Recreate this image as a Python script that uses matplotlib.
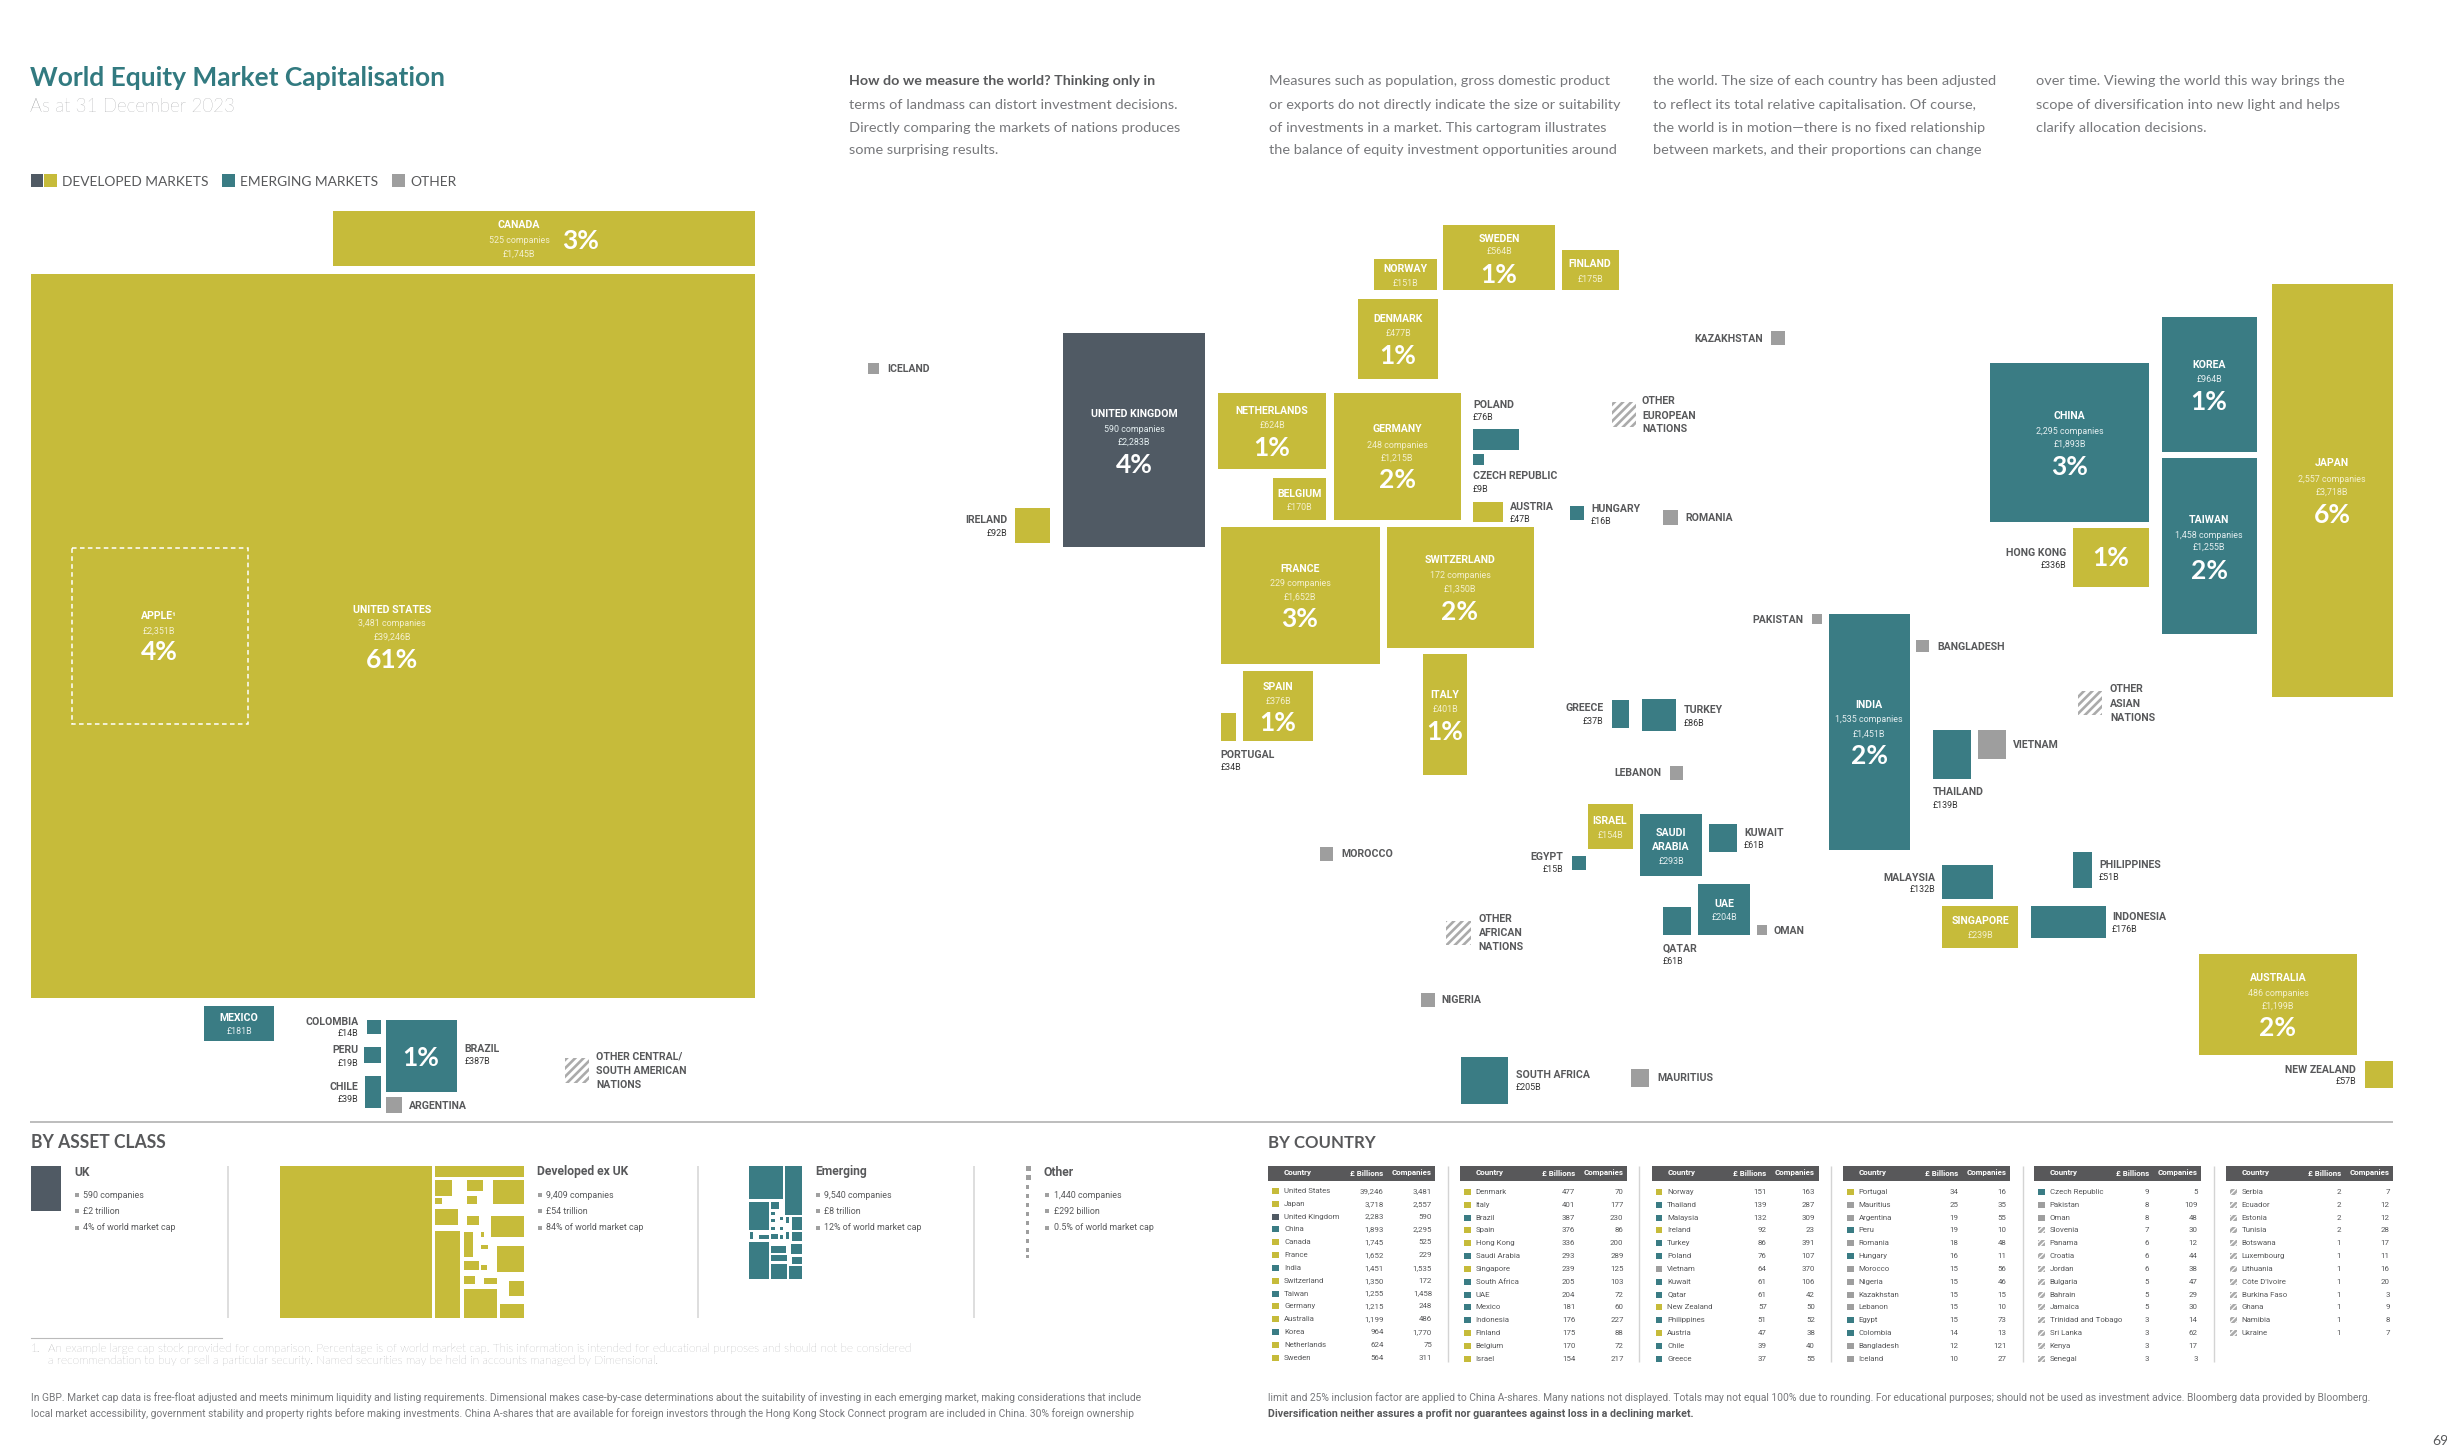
import matplotlib
matplotlib.use('Agg')
import matplotlib.pyplot as plt
from matplotlib import font_manager as fm

W, H = 2447, 1448
OLIVE, TEAL, SLATE, GRAY = '#C6BB3A', '#3A7C84', '#505A64', '#9E9E9E'
TXT, HEAD = '#58595B', '#58585A'
HATCH = '#ABABAB'

# ---------- data ----------
T1_NAMES = ['United States','Japan','United Kingdom','China','Canada','France','India','Switzerland','Taiwan','Germany','Australia','Korea','Netherlands','Sweden']
T1_VALS = [39246,3718,2283,1893,1745,1652,1451,1350,1255,1215,1199,964,624,564]
T1_COS = [3481,2557,590,2295,525,229,1535,172,1458,248,486,1770,75,311]
T1_CLASS = list('DDUEDDEDEDDEDD')
T2_NAMES = ['Denmark','Italy','Brazil','Spain','Hong Kong','Saudi Arabia','Singapore','South Africa','UAE','Mexico','Indonesia','Finland','Belgium','Israel']
T2_VALS = [477,401,387,376,336,293,239,205,204,181,176,175,170,154]
T2_COS = [70,177,230,86,200,289,125,103,72,60,227,88,72,217]
T2_CLASS = list('DDEDDEDEEEEDDD')
T3_NAMES = ['Norway','Thailand','Malaysia','Ireland','Turkey','Poland','Vietnam','Kuwait','Qatar','New Zealand','Philippines','Austria','Chile','Greece']
T3_VALS = [151,139,132,92,86,76,64,61,61,57,51,47,39,37]
T3_COS = [163,287,309,23,391,107,370,106,42,50,52,38,40,55]
T3_CLASS = list('DEEDEEOEEDEDEE')
T4_NAMES = ['Portugal','Mauritius','Argentina','Peru','Romania','Hungary','Morocco','Nigeria','Kazakhstan','Lebanon','Egypt','Colombia','Bangladesh','Iceland']
T4_VALS = [34,25,19,19,18,16,15,15,15,15,15,14,12,10]
T4_COS = [16,35,55,10,48,11,56,46,15,10,73,13,121,27]
T4_CLASS = list('DOOEOEOOOOEEOO')
T5_NAMES = ['Czech Republic','Pakistan','Oman','Slovenia','Panama','Croatia','Jordan','Bulgaria','Bahrain','Jamaica','Trinidad and Tobago','Sri Lanka','Kenya','Senegal']
T5_VALS = [9,8,8,7,6,6,6,5,5,5,3,3,3,3]
T5_COS = [5,109,48,30,12,44,38,47,29,30,14,62,17,3]
T5_CLASS = list('EOOHHHHHHHHHHH')
T6_NAMES = ['Serbia','Ecuador','Estonia','Tunisia','Botswana','Luxembourg','Lithuania',"Côte D'Ivoire",'Burkina Faso','Ghana','Namibia','Ukraine']
T6_VALS = [2,2,2,2,1,1,1,1,1,1,1,1]
T6_COS = [7,12,12,28,17,11,16,20,3,9,8,7]
T6_CLASS = list('HHHHHHHHHHHH')
PCT = {'United States':61,'Canada':3,'United Kingdom':4,'Germany':2,'Netherlands':1,'Sweden':1,'Denmark':1,
       'France':3,'Switzerland':2,'Spain':1,'Italy':1,'India':2,'China':3,'Korea':1,'Taiwan':2,'Japan':6,
       'Hong Kong':1,'Australia':2,'Brazil':1}
APPLE_VALUE, APPLE_PCT = 2351, 4
OTHER_LABELS = ['OTHER EUROPEAN NATIONS','OTHER ASIAN NATIONS','OTHER AFRICAN NATIONS','OTHER CENTRAL/ SOUTH AMERICAN NATIONS']
ASSET_NAMES = ['UK','Developed ex UK','Emerging','Other']
ASSET_COS = ['590 companies','9,409 companies','9,540 companies','1,440 companies']
ASSET_CAP = ['£2 trillion','£54 trillion','£8 trillion','£292 billion']
ASSET_SHARE = ['4% of world market cap','84% of world market cap','12% of world market cap','0.5% of world market cap']
TABLES = [(T1_NAMES,T1_VALS,T1_COS,T1_CLASS),(T2_NAMES,T2_VALS,T2_COS,T2_CLASS),(T3_NAMES,T3_VALS,T3_COS,T3_CLASS),
          (T4_NAMES,T4_VALS,T4_COS,T4_CLASS),(T5_NAMES,T5_VALS,T5_COS,T5_CLASS),(T6_NAMES,T6_VALS,T6_COS,T6_CLASS)]
VAL, COS, CLS = {}, {}, {}
for n_, v_, c_, k_ in TABLES:
    for a, b, c, d in zip(n_, v_, c_, k_):
        VAL[a], COS[a], CLS[a] = b, c, d

# ---------- layout (tile edges: left, top, right, bottom) ----------
TILES = {
 'United States':(30.5,274,755,998),'Canada':(333,211,755,266),'Mexico':(204,1006,273.5,1041),
 'Colombia':(367,1020,381,1034),'Peru':(364,1047,381,1063),'Chile':(365,1076,381,1108),'Brazil':(386,1020,457,1092),'Argentina':(386,1097,402,1113),
 'United Kingdom':(1063,333,1205,547),'Ireland':(1015,508,1050,543),'Iceland':(868,363,879,374),
 'Sweden':(1443,225,1555,290),'Norway':(1374,259,1437,290),'Finland':(1562,250,1619,290),'Denmark':(1358,299,1437.5,379),
 'Netherlands':(1218,393,1326,469),'Germany':(1333.5,393,1461,520),'Belgium':(1273,478,1326,520),'Poland':(1473,429,1519,450),
 'Czech Republic':(1473,454,1483.5,465),'Austria':(1473,502,1503,522),'Hungary':(1570,506,1584,520),'Romania':(1662.5,510,1678,525),
 'Kazakhstan':(1771,331,1785,345),'France':(1220.5,527,1380,664),'Switzerland':(1387,527,1534,648),'Spain':(1243,671,1313,741),
 'Portugal':(1220.5,713,1236,741),'Italy':(1423,654,1466.5,775),'Greece':(1612,700,1629,728),'Turkey':(1642,699,1676,731),
 'Lebanon':(1670,766,1683,780),'Israel':(1588,804,1633,849),'Saudi Arabia':(1640,814,1702,876),'Kuwait':(1708.5,824,1736.5,852),
 'Egypt':(1572,856,1586,870),'UAE':(1698,884,1750,935),'Qatar':(1663,907,1691,935),'Morocco':(1320,847,1333,861),
 'Nigeria':(1421,993,1435,1007),'South Africa':(1461,1057,1508,1104),'Mauritius':(1631,1069,1649,1087),
 'Japan':(2272,284,2393,697),'Korea':(2162,317,2257,452),'Taiwan':(2162,458,2257,634),'China':(1990,363,2149,522),
 'Hong Kong':(2073,528,2149,587),'India':(1828.5,614,1910,850),'Pakistan':(1811.5,614,1822,624),'Bangladesh':(1916,640,1929,652),
 'Thailand':(1933,730,1971,779),'Vietnam':(1977.5,730,2006,759),'Malaysia':(1942,865,1993,899),'Singapore':(1942,906,2018,948),
 'Indonesia':(2031,906,2105.5,938),'Philippines':(2073,852,2092,888),'Australia':(2199,954,2357,1055),'New Zealand':(2365,1061,2393,1088),
}
TILES['Oman'] = (1757,925,1766.5,935)
HATCH_TILES = [(1612,402,1636,427),(2077.5,691,2102,715),(1446,921,1471,945),(565,1058,589,1083)]
APPLE_BOX = (72,548,248,724)
# name, x, name-line ys, companies y, value y, pct y
INSIDE = [
 ('United States',392,[610],624,637,660),('United Kingdom',1134,[414],429,442,465),('Germany',1397,[429],445,458,480),
 ('Netherlands',1272,[411],None,426,448),('Belgium',1299.5,[494],None,507,None),('Sweden',1499,[239],None,252,275),
 ('Norway',1405,[269],None,283,None),('Finland',1590,[264],None,279,None),('Denmark',1398,[319],None,333,356),
 ('France',1300,[569],584,597,619),('Switzerland',1460,[560],576,589,612),('Spain',1278,[687],None,701,723),
 ('Italy',1445,[695],None,709,732),('Israel',1610,[821],None,835,None),('Saudi Arabia',1671,[833,847],None,861,None),
 ('UAE',1724,[904],None,918,None),('India',1869,[705],720,734,756),('China',2069.5,[416],431,444,467),
 ('Korea',2209,[365],None,379,402),('Taiwan',2209,[520],535,547,571),('Japan',2332,[463],479,492,515),
 ('Singapore',1980,[921],None,936,None),('Australia',2278,[978],993,1006,1028),('Mexico',239,[1018],None,1032,None),
]
# name, ha, x, name y, value y
OUTSIDE = [
 ('Iceland','left',887,369,None),('Ireland','right',1007,520,534),('Poland','left',1473,405,418),('Czech Republic','left',1473,476,489),
 ('Austria','left',1510,507,519),('Hungary','left',1591,509,521),('Romania','left',1685,518,None),('Kazakhstan','right',1763,339,None),
 ('Pakistan','right',1803,620,None),('Bangladesh','left',1937,647,None),('Vietnam','left',2013,745,None),('Thailand','left',1933,792,805),
 ('Malaysia','right',1935,878,890),('Philippines','left',2099,865,878),('Indonesia','left',2112,917,930),('New Zealand','right',2356,1070,1082),
 ('Portugal','left',1220.5,755,768),('Greece','right',1603.5,708,721),('Turkey','left',1684,710,723),('Lebanon','right',1661,773,None),
 ('Kuwait','left',1744,833,846),('Egypt','right',1563,857,870),('Morocco','left',1341,854,None),('Oman','left',1774,931,None),
 ('Qatar','left',1663,949,961),('Nigeria','left',1441.5,1000,None),('South Africa','left',1516,1075,1087),('Mauritius','left',1657,1078,None),
 ('Colombia','right',358.5,1022,1034),('Peru','right',358.5,1050,1063),('Chile','right',358.5,1087,1100),('Brazil','left',464.5,1049,1062),
 ('Argentina','left',408.7,1106,None),('Hong Kong','right',2066,553,566),
]
OTHER_POS = [(1642,[401,416,429],['OTHER','EUROPEAN','NATIONS']),(2110,[689,704,718],['OTHER','ASIAN','NATIONS']),
             (1478.6,[919,933,947],['OTHER','AFRICAN','NATIONS']),(596,[1057,1071,1085],['OTHER CENTRAL/','SOUTH AMERICAN','NATIONS'])]
DEV_CROP = [(686,107,1058,563),(1066,107,1283,142),(1066,149,1107,198),(1145,149,1183,184),(1207,149,1283,223),(1066,203,1083,223),
 (1145,197,1168,223),(1066,237,1122,285),(1145,259,1174,285),(1202,259,1283,322),(1066,303,1128,563),(1136,306,1158,380),
 (1179,305,1186,322),(1179,346,1195,358),(1218,347,1283,426),(1136,394,1174,420),(1179,404,1192,420),(1136,437,1163,462),
 (1187,444,1218,462),(1247,454,1283,498),(1136,477,1218,563),(1226,522,1283,563)]
EM_CROP = [(268,107,350,207),(356,107,397,256),(268,215,316,299),(322,215,341,236),(321,245,331,255),(321,267,331,277),(344,260,350,270),
 (358,261,366,279),(373,261,397,300),(322,291,331,300),(344,292,350,300),(269,307,278,328),(292,316,316,327),(322,312,338,327),
 (344,316,350,326),(358,307,366,328),(373,307,397,334),(268,337,316,448),(322,347,358,369),(370,342,397,373),(322,375,361,394),
 (372,381,397,402),(322,403,359,448),(365,409,397,448)]
OTH_CROP = [(945,107,958,123),(945,134,958,150),(945,166,952,178),(945,193,952,205),(945,220,952,232),(945,247,952,259),(945,274,952,286),
 (945,301,952,313),(945,328,952,340),(945,355,952,365),(945,376,952,385)]
DEV_TILES = [(a/2.45,1130+b/3,c/2.45,1130+d/3) for a,b,c,d in DEV_CROP]
EM_TILES = [(640+a/2.45,1130+b/3,640+c/2.45,1130+d/3) for a,b,c,d in EM_CROP]
OTH_TILES = [(640+a/2.45,1130+b/3,640+c/2.45,1130+d/3) for a,b,c,d in OTH_CROP]
TABLE_X = [1268.4,1460,1651.5,1843,2034,2226]
TABLE_DIV = [1448,1639,1830.6,2022.7,2214]

# ---------- figure ----------
plt.rcParams['hatch.linewidth'] = 1.9
have = {f.name for f in fm.fontManager.ttflist}
NARROW = 'Liberation Sans Narrow' if 'Liberation Sans Narrow' in have else 'Roboto'
NS = 1.0 if NARROW == 'Liberation Sans Narrow' else 0.84
LATO = 'Lato'
fig = plt.figure(figsize=(W/100, H/100), dpi=100, facecolor='white')
ax = fig.add_axes([0, 0, 1, 1])
ax.set_xlim(0, W); ax.set_ylim(H, 0); ax.axis('off')
rend = fig.canvas.get_renderer()

def boxes(rects, **kw):
    ax.bar([r[0] for r in rects], [r[3]-r[1] for r in rects], [r[2]-r[0] for r in rects],
           bottom=[r[1] for r in rects], align='edge', linewidth=0, **kw)

def fit(s, width, **kw):
    t = ax.text(0, 0, s, fontsize=10, **kw)
    w = t.get_window_extent(rend).width
    t.remove()
    return 10*width/w

def T(x, y, s, size, family=LATO, color=TXT, ha='left', weight='normal'):
    ax.text(x, y, s, fontsize=size, family=family, color=color, ha=ha, va='center', fontweight=weight)

def N(x, y, s, size, color=TXT, ha='left', weight='normal'):
    T(x, y, s, size*NS, NARROW, color, ha, weight)

COL = {'D':OLIVE,'U':SLATE,'E':TEAL,'O':GRAY}
for k, c in COL.items():
    boxes([TILES[n] for n in TILES if CLS[n] == k], color=c)
boxes(HATCH_TILES, color='white', edgecolor=HATCH, hatch='////')
ax.bar(APPLE_BOX[0], APPLE_BOX[3]-APPLE_BOX[1], APPLE_BOX[2]-APPLE_BOX[0], bottom=APPLE_BOX[1], align='edge',
       fill=False, edgecolor='white', linewidth=1.1, linestyle=(0, (3, 2.2)))

# title, legend
T(30, 78, 'World Equity Market Capitalisation', fit('World Equity Market Capitalisation', 416, family=LATO, fontweight='bold'),
  color='#327A80', weight='bold')
T(30, 107, 'As at 31 December 2023', fit('As at 31 December 2023', 205, family=LATO, fontweight='light'), color='#808285', weight='light')
boxes([(31,174,43,187)], color=SLATE); boxes([(44,174,57,187)], color=OLIVE)
boxes([(222,174,235,187)], color=TEAL); boxes([(392,174,405,187)], color=GRAY)
ls = fit('DEVELOPED MARKETS', 146, family=LATO)
T(62,182,'DEVELOPED MARKETS',ls); T(240,182,'EMERGING MARKETS',ls); T(410,182,'OTHER',ls)

# intro
PS = fit('terms of landmass can distort investment decisions.', 327, family=LATO)
INTRO = [(849,['How do we measure the world? Thinking only in','terms of landmass can distort investment decisions.','Directly comparing the markets of nations produces','some surprising results.']),
         (1269,['Measures such as population, gross domestic product','or exports do not directly indicate the size or suitability','of investments in a market. This cartogram illustrates','the balance of equity investment opportunities around']),
         (1652.6,['the world. The size of each country has been adjusted','to reflect its total relative capitalisation. Of course,','the world is in motion—there is no fixed relationship','between markets, and their proportions can change']),
         (2036,['over time. Viewing the world this way brings the','scope of diversification into new light and helps','clarify allocation decisions.'])]
for x, lines in INTRO:
    for y, s in zip([81,105,127.5,150], lines):
        bold = s.startswith('How do')
        T(x, y, s, PS*(0.985 if bold else 1), color='#58595B' if bold else '#77787B', weight='bold' if bold else 'normal')

# tile labels
WARM = '#F4F0CF'
NAME_LINES = {'Saudi Arabia':['SAUDI','ARABIA'],'UAE':['UAE']}
for name, x, ys, yc, yv, yp in INSIDE:
    sub = WARM if CLS[name] == 'D' else '#E4EEF0'
    for y, s in zip(ys, NAME_LINES.get(name, [name.upper()])):
        N(x, y, s, 9, 'white', 'center', 'bold')
    if yc is not None:
        N(x, yc, f'{COS[name]:,} companies', 7.6, sub, 'center')
    N(x, yv, f'£{VAL[name]:,}B', 7.6, sub, 'center')
    if yp is not None:
        T(x, yp, f'{PCT[name]}%', 19, color='white', ha='center', weight='bold')
N(519,225,'CANADA',9,'white','center','bold')
N(519,240.7,f"{COS['Canada']:,} companies",7.6,WARM,'center')
N(519,254,f"£{VAL['Canada']:,}B",7.6,WARM,'center')
T(580.6,241,f"{PCT['Canada']}%",19,color='white',ha='center',weight='bold')
T(2111,558,f"{PCT['Hong Kong']}%",19,color='white',ha='center',weight='bold')
T(421,1058,f"{PCT['Brazil']}%",19,color='white',ha='center',weight='bold')
N(159,616,'APPLE¹',9,'white','center','bold')
N(159,631,f'£{APPLE_VALUE:,}B',7.6,WARM,'center')
T(159,652,f'{APPLE_PCT}%',19,color='white',ha='center',weight='bold')
for name, ha, x, y, yv in OUTSIDE:
    N(x, y, name.upper(), 9, TXT, ha, 'bold')
    if yv is not None:
        N(x, yv, f'£{VAL[name]:,}B', 7.6, '#333333', ha)
for x, ys, lines in OTHER_POS:
    for y, s in zip(ys, lines):
        N(x, y, s, 9, TXT, 'left', 'bold')

ax.plot([30, 2393], [1122, 1122], color='#BDBDBD', lw=1.4, solid_capstyle='butt')

# by asset class
T(31,1143,'BY ASSET CLASS',fit('BY ASSET CLASS',136,family=LATO,fontweight='bold'),color=TXT,weight='bold')
T(1268,1143,'BY COUNTRY',fit('BY COUNTRY',107.6,family=LATO,fontweight='bold'),color=TXT,weight='bold')
boxes([(31,1166,61,1211)], color=SLATE)
boxes(DEV_TILES, color=OLIVE); boxes(EM_TILES, color=TEAL); boxes(OTH_TILES, color=GRAY)
ax.vlines([228,698.4,973.9],1166,1318,color='#D4D4D4',lw=1.1)
AX = [(74,77,83),(537,539.6,546.5),(815.5,818.4,824.5),(1044,1046.5,1054)]
for (xh,xb,xt),nm,c1,c2,c3 in zip(AX,ASSET_NAMES,ASSET_COS,ASSET_CAP,ASSET_SHARE):
    N(xh,1172,nm,10.4,TXT,'left','bold')
    ax.plot([xb]*3,[1195,1211,1228],ls='none',marker='s',ms=2.4,mew=0,color='#A0A0A0')
    for y,s in zip([1195,1211,1228],[c1,c2,c3]):
        N(xt,y,s,7.6,TXT)

# by country tables
for i,(x0,(names,vals,cos,cls)) in enumerate(zip(TABLE_X,TABLES)):
    boxes([(x0,1165.7,x0+167,1180.7)], color=HEAD)
    N(x0+15.7,1173,'Country',6.8,'white','left','bold')
    N(x0+115.2,1173,'£ Billions',6.8,'white','right','bold')
    N(x0+163.6,1173,'Companies',6.8,'white','right','bold')
    for j,(n,v,c,k) in enumerate(zip(names,vals,cos,cls)):
        y = 1192+12.82*j-(1 if i==0 else 0)
        if k=='H':
            boxes([(x0+4,y-3,x0+10.5,y+3)],color='white',edgecolor=HATCH,hatch='//////')
        else:
            boxes([(x0+4,y-3,x0+10.5,y+3)],color=COL[k])
        N(x0+15.7,y,n,6.8,TXT)
        N(x0+115.2,y,f'{v:,}',6.8,TXT,'right')
        N(x0+163.6,y,f'{c:,}',6.8,TXT,'right')
ax.vlines(TABLE_DIV,1166,1362,color='#D4D4D4',lw=1.0)

# notes
ax.plot([31,222],[1338,1338],color='#BBBBBB',lw=0.8)
F1='An example large cap stock provided for comparison. Percentage is of world market cap. This information is intended for educational purposes and should not be considered'
F2='a recommendation to buy or sell a particular security. Named securities may be held in accounts managed by Dimensional.'
fs=fit(F1,856,family=LATO,fontweight='light')
T(31,1349,'1.',fs,color='#77787B',weight='light'); T(48,1349,F1,fs,color='#77787B',weight='light'); T(48,1361,F2,fs,color='#77787B',weight='light')
L1='In GBP. Market cap data is free-float adjusted and meets minimum liquidity and listing requirements. Dimensional makes case-by-case determinations about the suitability of investing in each emerging market, making considerations that include'
L2='local market accessibility, government stability and property rights before making investments. China A-shares that are available for foreign investors through the Hong Kong Stock Connect program are included in China. 30% foreign ownership'
R1='limit and 25% inclusion factor are applied to China A-shares. Many nations not displayed. Totals may not equal 100% due to rounding. For educational purposes; should not be used as investment advice. Bloomberg data provided by Bloomberg.'
R2='Diversification neither assures a profit nor guarantees against loss in a declining market.'
ns=fit(L1,1117,family=NARROW)
T(31,1398,L1,ns,NARROW,'#77787B'); T(31,1414,L2,ns,NARROW,'#77787B'); T(1268,1398,R1,ns,NARROW,'#77787B')
T(1268,1414,R2,fit(R2,425.6,family=NARROW,fontweight='bold'),NARROW,TXT,weight='bold')
T(2432,1441,'69',10,color=TXT)

fig.savefig('out.png', dpi=100, facecolor='white')
